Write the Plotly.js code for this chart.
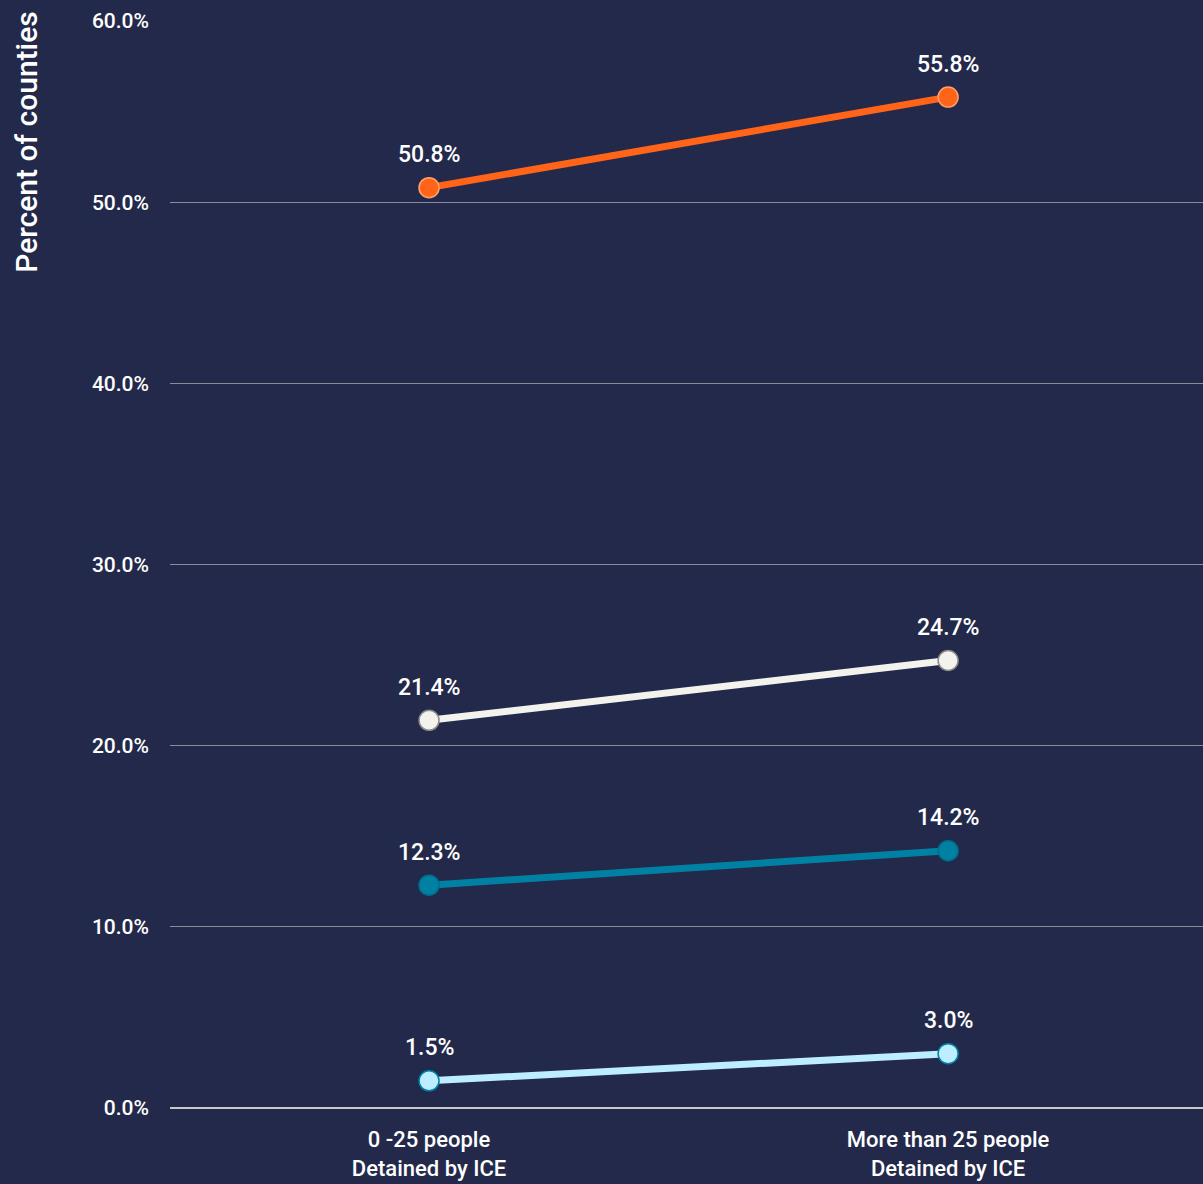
<!DOCTYPE html>
<html>
<head>
<meta charset="utf-8">
<script src="https://cdn.plot.ly/plotly-3.0.1.min.js"></script>
<style>
html,body{margin:0;padding:0;background:#23294a;}
#chart{width:1203px;height:1184px;}
</style>
</head>
<body>
<div id="chart"></div>
<script>
const categories = ["0 -25 people<br>Detained by ICE", "More than 25 people<br>Detained by ICE"];
const seriesOrange = [50.8, 55.8];
const seriesWhite = [21.4, 24.7];
const seriesTeal = [12.3, 14.2];
const seriesLight = [1.5, 3.0];
const yTickVals = [0, 10, 20, 30, 40, 50, 60];
const yTickText = ["0.0%", "10.0%", "20.0%", "30.0%", "40.0%", "50.0%", "60.0%"];
const yTitle = "Percent of counties";

const FONT = "Roboto, 'Noto Sans', sans-serif";

const series = [
  {y: seriesOrange, line: "#ff6418", fill: "#ff6418", border: "#ffa070"},
  {y: seriesWhite, line: "#f3f2ec", fill: "#f3f2ec", border: "#8a8a8a"},
  {y: seriesTeal, line: "#0081a3", fill: "#0081a3", border: "#006d8c"},
  {y: seriesLight, line: "#bdeeff", fill: "#bdeeff", border: "#0081a3"}
];

const traces = series.map(s => ({
  type: "scatter",
  mode: "lines+markers",
  x: categories,
  y: s.y,
  line: {color: s.line, width: 7},
  marker: {size: 20, color: s.fill, line: {color: s.border, width: 1.5}},
  hoverinfo: "skip",
  showlegend: false,
  cliponaxis: false
}));

const annotations = [];
series.forEach(s => {
  s.y.forEach((v, i) => {
    annotations.push({
      x: categories[i], y: v, xref: "x", yref: "y",
      text: v.toFixed(1) + "%",
      showarrow: false, yshift: 33,
      font: {family: FONT, size: 23, color: "#ffffff", weight: 500}
    });
  });
});
annotations.push({
  xref: "paper", yref: "paper", x: -0.1585, y: 1.0,
  xanchor: "left", yanchor: "top",
  text: yTitle, textangle: -90, showarrow: false,
  yshift: 12,
  font: {family: FONT, size: 30, color: "#ffffff", weight: 500}
});

const layout = {
  width: 1203, height: 1184,
  paper_bgcolor: "#23294a",
  plot_bgcolor: "#23294a",
  margin: {l: 170, r: 0, t: 21, b: 76},
  font: {family: FONT, color: "#ffffff"},
  xaxis: {
    type: "category",
    range: [-0.499, 1.491],
    showgrid: false, zeroline: false, showline: false,
    ticks: "",
    ticklabelstandoff: 16,
    tickfont: {size: 22, color: "#ffffff", weight: 500},
    fixedrange: true
  },
  yaxis: {
    range: [0, 60],
    tickvals: yTickVals, ticktext: yTickText,
    showgrid: true, gridcolor: "#8a8c9a", gridwidth: 1.3,
    zeroline: true, zerolinecolor: "#c8c8cc", zerolinewidth: 2,
    showline: false, ticks: "",
    ticklabelstandoff: 20,
    tickfont: {size: 21, color: "#ffffff", weight: 500},
    automargin: false,
    fixedrange: true
  },
  annotations: annotations
};

Plotly.newPlot("chart", traces, layout, {displayModeBar: false, staticPlot: true});
</script>
</body>
</html>
